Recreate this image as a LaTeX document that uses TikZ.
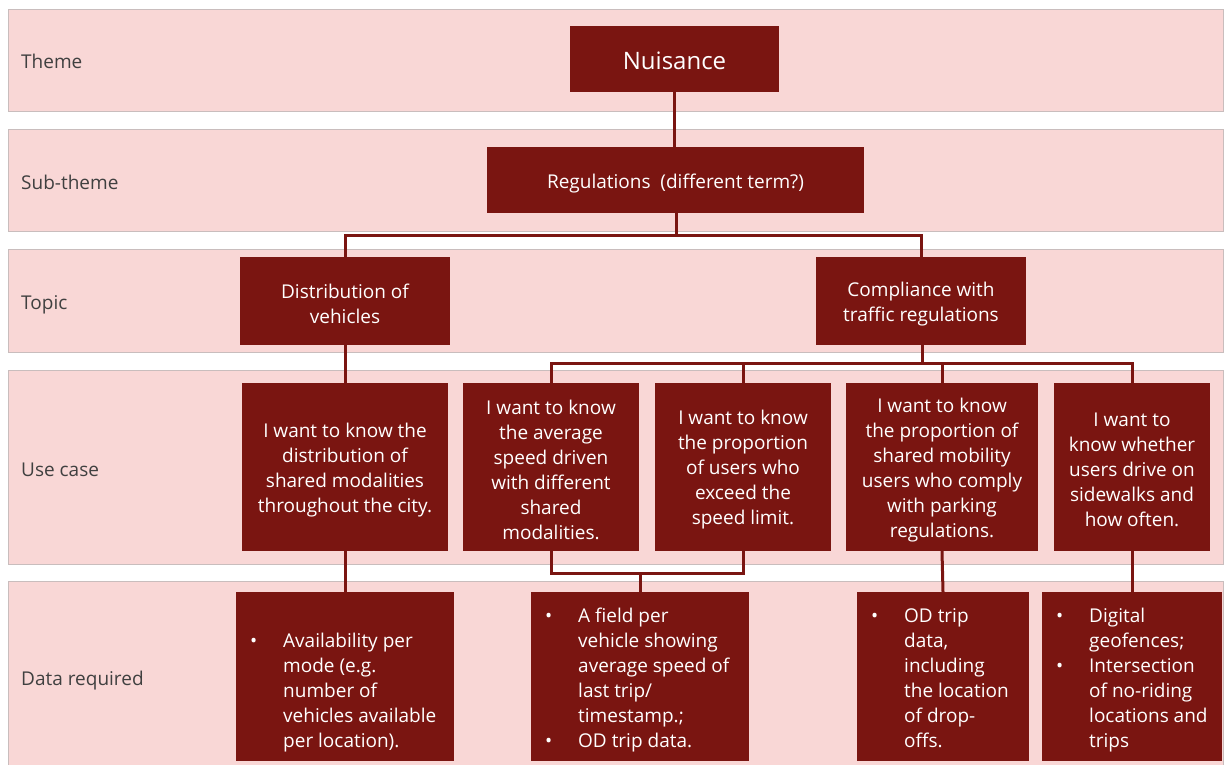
\documentclass[tikz,border=0pt]{standalone}
\usepackage{fontspec}
\setmainfont{Open Sans}
\definecolor{bandfill}{HTML}{F9D7D6}
\definecolor{bandline}{HTML}{C9BDBD}
\definecolor{boxred}{HTML}{7A1511}
\definecolor{labelgray}{HTML}{404040}

% bullet for the data lists, and a strut that lowers centred box text a little
\newcommand{\bul}{\hspace*{3pt}\textbullet}
\newcommand{\tg}{\rule{0pt}{20pt}}

\tikzset{
  band/.style={draw=bandline, line width=0.8pt, fill=bandfill, anchor=north west, minimum width=1215pt, inner sep=0pt},
  bandlabel/.style={anchor=base west, text=labelgray, inner sep=0pt, font=\fontsize{19}{22}\selectfont},
  redbox/.style={fill=boxred, draw=none, inner sep=0pt, text=white, align=center,
    font=\fontsize{19}{25}\selectfont},
  listtext/.style={anchor=base west, text=white, inner sep=0pt, font=\fontsize{19}{25}\selectfont},
  link/.style={draw=boxred, line width=3pt},
}

\begin{document}
\begin{tikzpicture}[x=1pt,y=-1pt]
\useasboundingbox (0,0) rectangle (1224,764);

% level bands
\node[band, minimum height=102pt] (bandTheme) at (8,9) {};
\node[band, minimum height=102pt] (bandSub)   at (8,129) {};
\node[band, minimum height=103pt] (bandTopic) at (8,249) {};
\node[band, minimum height=194pt] (bandUse)   at (8,370) {};
\node[band, minimum height=200pt] (bandData)  at (8,581) {};

\node[bandlabel] (lblTheme) at (21,68.5) {Theme};
\node[bandlabel] (lblSub)   at (21,189)  {Sub-theme};
\node[bandlabel] (lblTopic) at (21,309)  {Topic};
\node[bandlabel] (lblUse)   at (21,476)  {Use case};
\node[bandlabel] (lblData)  at (21,685)  {Data required};

% theme and sub-theme
\node[redbox, minimum width=209pt, minimum height=66pt, font=\fontsize{24}{28}\selectfont] (nuis) at (674.5,59) {\rule{0pt}{22pt}Nuisance};
\node[redbox, minimum width=377pt, minimum height=66pt] (reg) at (675.5,180) {\rule{0pt}{22pt}Regulations \ (different term?)};

% topics
\node[redbox, minimum width=210pt, minimum height=88pt] (dist) at (345,301) {\tg Distribution of\\vehicles};
\node[redbox, minimum width=210pt, minimum height=88pt] (comp) at (921,301) {\tg Compliance with\\traffic regulations};

% use cases
\node[redbox, minimum width=206pt, minimum height=168pt] (uc1) at (345,467) {\tg I want to know the\\distribution of\\shared modalities\\throughout the city.};
\node[redbox, minimum width=176pt, minimum height=168pt] (uc2) at (551,467) {\tg I want to know\\the average\\speed driven\\with different\\shared\\modalities.};
\node[redbox, minimum width=176pt, minimum height=168pt] (uc3) at (743,467) {\tg I want to know\\the proportion\\of users who\\exceed the\\speed limit.};
\node[redbox, minimum width=192pt, minimum height=168pt] (uc4) at (942,467) {\tg I want to know\\the proportion of\\shared mobility\\users who comply\\with parking\\regulations.};
\node[redbox, minimum width=156pt, minimum height=168pt] (uc5) at (1132,467) {\tg I want to\\know whether\\users drive on\\sidewalks and\\how often.};

% data required
\node[redbox, minimum width=218pt, minimum height=169pt] (d1) at (345,676.5) {};
\node[redbox, minimum width=218pt, minimum height=169pt] (d2) at (640,676.5) {};
\node[redbox, minimum width=172pt, minimum height=169pt] (d3) at (943,676.5) {};
\node[redbox, minimum width=180pt, minimum height=169pt] (d4) at (1132,676.5) {};

\node[listtext] (d1t) at (247,647) {\begin{tabular}[t]{@{}p{36pt}@{}l@{}}
\bul & Availability per\\ & mode (e.g.\\ & number of\\ & vehicles available\\ & per location).\end{tabular}};
\node[listtext] (d2t) at (542,622) {\begin{tabular}[t]{@{}p{36pt}@{}l@{}}
\bul & A field per\\ & vehicle showing\\ & average speed of\\ & last trip/\\ & timestamp.;\\ \bul & OD trip data.\end{tabular}};
\node[listtext] (d3t) at (868,622) {\begin{tabular}[t]{@{}p{36pt}@{}l@{}}
\bul & OD trip\\ & data,\\ & including\\ & the location\\ & of drop-\\ & offs.\end{tabular}};
\node[listtext] (d4t) at (1053,622) {\begin{tabular}[t]{@{}p{36pt}@{}l@{}}
\bul & Digital\\ & geofences;\\ \bul & Intersection\\ & of no-riding\\ & locations and\\ & trips\end{tabular}};

% connectors
\coordinate (busA) at (676,235);
\coordinate (busB) at (922,363);
\coordinate (busC) at (640,573);

\draw[link] (nuis.south) -- (nuis.south |- reg.north);
\draw[link] (reg.south -| busA) -- (busA);
\draw[link] (dist.north) |- (busA) -| (comp.north);

\draw[link] (dist.south) -- (uc1.north);
\draw[link] (comp.south -| busB) -- (busB);
\draw[link] (uc2.north) |- (busB) -| (uc5.north);
\draw[link] (uc3.north) -- (uc3.north |- busB);
\draw[link] (uc4.north) -- (uc4.north |- busB);

\draw[link] (uc1.south) -- (d1.north);
\draw[link] (uc2.south) |- (busC) -| (uc3.south);
\draw[link] (busC) -- (d2.north);
\draw[link] (uc4.south) -- (d3.north);
\draw[link] (uc5.south) -- (d4.north);
\end{tikzpicture}
\end{document}
